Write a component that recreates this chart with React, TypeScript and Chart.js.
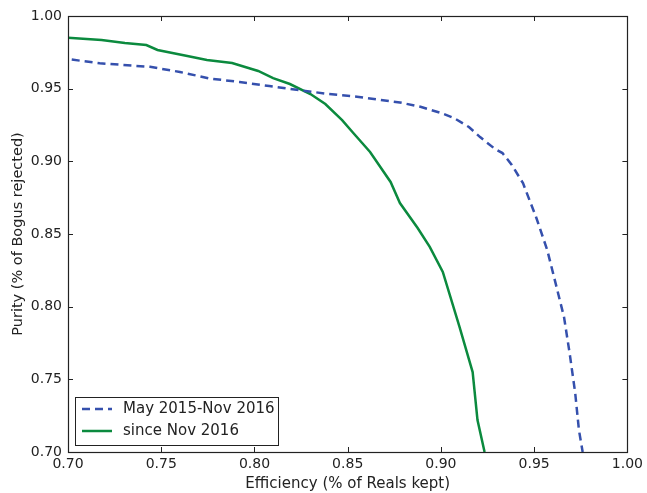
import React, { useEffect, useRef } from "react";
import { Chart, registerables } from "chart.js";

Chart.register(...registerables);

const oldEfficiency = [0.702, 0.717, 0.744, 0.760, 0.776, 0.792, 0.808, 0.824, 0.840, 0.856, 0.878, 0.889, 0.900, 0.907, 0.915, 0.921, 0.929, 0.933, 0.938, 0.944, 0.951, 0.957, 0.962, 0.966, 0.969, 0.972, 0.974, 0.976];
const oldPurity = [0.970, 0.9675, 0.965, 0.9615, 0.957, 0.9546, 0.9518, 0.949, 0.9463, 0.9443, 0.9405, 0.9375, 0.9333, 0.9298, 0.9236, 0.9167, 0.9085, 0.9057, 0.8975, 0.885, 0.8617, 0.839, 0.8135, 0.7929, 0.7681, 0.7406, 0.7151, 0.70];

const newEfficiency = [0.700, 0.718, 0.7305, 0.742, 0.748, 0.764, 0.7745, 0.788, 0.802, 0.810, 0.819, 0.830, 0.838, 0.847, 0.853, 0.862, 0.873, 0.878, 0.8875, 0.894, 0.901, 0.910, 0.917, 0.9196, 0.9234];
const newPurity = [0.985, 0.9835, 0.9814, 0.980, 0.9766, 0.9725, 0.9697, 0.9677, 0.9622, 0.9573, 0.9532, 0.9463, 0.9394, 0.9284, 0.9195, 0.9064, 0.8858, 0.8713, 0.8541, 0.8411, 0.8239, 0.786, 0.755, 0.722, 0.70];

const seriesLabels = ["May 2015-Nov 2016", "since Nov 2016"];
const xTicks = [0.70, 0.75, 0.80, 0.85, 0.90, 0.95, 1.00];
const yTicks = [0.70, 0.75, 0.80, 0.85, 0.90, 0.95, 1.00];

const BLUE = "#3550ad";
const GREEN = "#0b8a3e";
const FONT = "'DejaVu Sans', sans-serif";

const framePlugin = {
  id: "frame",
  afterDatasetsDraw(chart: any) {
    const { ctx, chartArea: a, scales } = chart;
    ctx.save();
    ctx.strokeStyle = "#222";
    ctx.lineWidth = 1;
    const L = 5;
    ctx.beginPath();
    for (const v of xTicks) {
      const x = Math.round(scales.x.getPixelForValue(v)) + 0.5;
      ctx.moveTo(x, a.bottom); ctx.lineTo(x, a.bottom - L);
      ctx.moveTo(x, a.top); ctx.lineTo(x, a.top + L);
    }
    for (const v of yTicks) {
      const y = Math.round(scales.y.getPixelForValue(v)) + 0.5;
      ctx.moveTo(a.left, y); ctx.lineTo(a.left + L, y);
      ctx.moveTo(a.right, y); ctx.lineTo(a.right - L, y);
    }
    ctx.stroke();
    ctx.lineWidth = 1.2;
    ctx.strokeRect(Math.round(a.left) + 0.5, Math.round(a.top) + 0.5, Math.round(a.right - a.left), Math.round(a.bottom - a.top));

    // legend
    const bx = 75, by = 397, bw = 203, bh = 48;
    ctx.fillStyle = "#fff";
    ctx.fillRect(bx, by, bw, bh);
    ctx.lineWidth = 1;
    ctx.strokeStyle = "#222";
    ctx.strokeRect(bx + 0.5, by + 0.5, bw, bh);
    const rows = [
      { label: seriesLabels[0], color: BLUE, dash: [8, 5] },
      { label: seriesLabels[1], color: GREEN, dash: [] },
    ];
    rows.forEach((r, i) => {
      const y = by + 12 + i * 22;
      ctx.strokeStyle = r.color;
      ctx.lineWidth = 2.5;
      ctx.setLineDash(r.dash);
      ctx.beginPath();
      ctx.moveTo(82, y); ctx.lineTo(112, y);
      ctx.stroke();
      ctx.setLineDash([]);
      ctx.fillStyle = "#222";
      ctx.font = `15px ${FONT}`;
      ctx.textBaseline = "middle";
      ctx.textAlign = "left";
      ctx.fillText(r.label, 123, y);
    });
    ctx.restore();
  },
};

export default function App() {
  const ref = useRef<HTMLCanvasElement>(null);
  useEffect(() => {
    document.body.style.margin = "0";
    const toPts = (xs: number[], ys: number[]) => xs.map((x, i) => ({ x, y: ys[i] }));
    const chart = new Chart(ref.current!, {
      type: "scatter",
      data: {
        datasets: [
          {
            label: seriesLabels[0],
            data: toPts(oldEfficiency, oldPurity),
            showLine: true,
            borderColor: BLUE,
            backgroundColor: BLUE,
            borderWidth: 2.5,
            borderDash: [8, 5],
            pointRadius: 0,
            tension: 0,
          },
          {
            label: seriesLabels[1],
            data: toPts(newEfficiency, newPurity),
            showLine: true,
            borderColor: GREEN,
            backgroundColor: GREEN,
            borderWidth: 2.5,
            pointRadius: 0,
            tension: 0,
          },
        ],
      },
      options: {
        animation: false,
        responsive: false,
        layout: { padding: { top: 16, right: 19, left: 0, bottom: 0 } },
        plugins: { legend: { display: false }, tooltip: { enabled: false } },
        scales: {
          x: {
            type: "linear",
            min: 0.70,
            max: 1.00,
            grid: { display: false, drawTicks: false },
            border: { display: false },
            afterBuildTicks: (s: any) => { s.ticks = xTicks.map((v) => ({ value: v })); },
            ticks: {
              color: "#222",
              font: { family: FONT, size: 14 },
              padding: 4,
              maxRotation: 0,
              callback: (v: any) => Number(v).toFixed(2),
            },
            title: {
              display: true,
              text: "Efficiency (% of Reals kept)",
              color: "#222",
              font: { family: FONT, size: 15 },
              padding: { top: 1, bottom: 0 },
            },
            afterFit: (s: any) => { s.height = 41; },
          },
          y: {
            type: "linear",
            min: 0.70,
            max: 1.00,
            grid: { display: false, drawTicks: false },
            border: { display: false },
            afterBuildTicks: (s: any) => { s.ticks = yTicks.map((v) => ({ value: v })); },
            ticks: {
              color: "#222",
              font: { family: FONT, size: 14 },
              padding: 6,
              callback: (v: any) => Number(v).toFixed(2),
            },
            title: {
              display: true,
              text: "Purity (% of Bogus rejected)",
              color: "#222",
              font: { family: FONT, size: 14.5 },
              padding: { top: 10, bottom: 2 },
            },
            afterFit: (s: any) => { s.width = 68; },
          },
        },
      },
      plugins: [framePlugin],
    });
    return () => chart.destroy();
  }, []);
  return <canvas ref={ref} width={647} height={493} style={{ display: "block" }} />;
}
